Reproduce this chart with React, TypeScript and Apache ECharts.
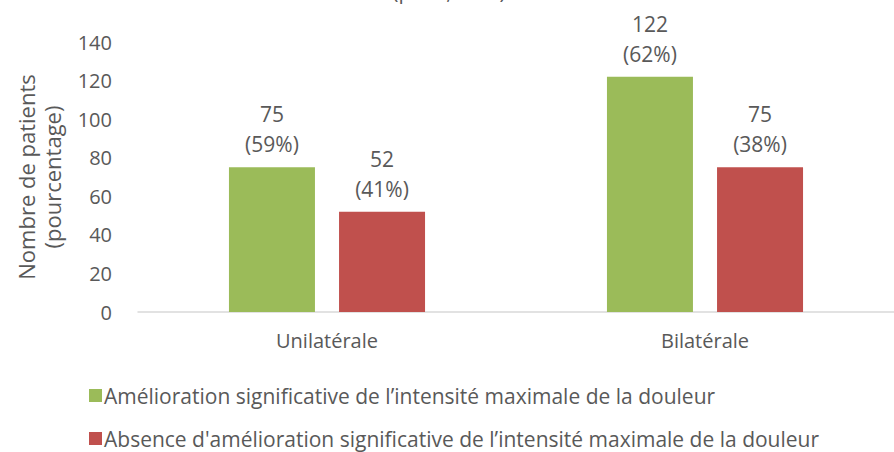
import React, { useEffect, useRef } from "react";
import * as echarts from "echarts";

const categories = ["Unilatérale", "Bilatérale"];
const improved = [75, 122];
const improvedPct = ["59%", "62%"];
const notImproved = [52, 75];
const notImprovedPct = ["41%", "38%"];
const seriesNames = [
  "Amélioration significative de l’intensité maximale de la douleur",
  "Absence d'amélioration significative de l’intensité maximale de la douleur",
];
const yTicks = { min: 0, max: 140, interval: 20 };
const titleText = "(p = 0,6043)";

const FONT = "'Open Sans', 'Liberation Sans', sans-serif";
const GREY = "#595959";

export default function App() {
  const ref = useRef<HTMLDivElement>(null);
  useEffect(() => {
    const chart = echarts.init(ref.current!, null, { renderer: "svg" });
    const label = (pcts: string[]) => ({
      show: true,
      position: "top",
      distance: 8,
      color: GREY,
      fontSize: 21,
      fontFamily: FONT,
      lineHeight: 30,
      formatter: (p: any) => `${p.value}\n(${pcts[p.dataIndex]})`,
    });
    const legendBase = {
      orient: "horizontal",
      left: 84,
      itemWidth: 13,
      itemHeight: 13,
      icon: "rect",
      textStyle: { color: GREY, fontSize: 21, fontFamily: FONT, padding: [0, 0, 0, -3] },
    };
    chart.setOption({
      animation: false,
      backgroundColor: "#ffffff",
      textStyle: { fontFamily: FONT },
      graphic: [
        {
          type: "text",
          x: 449,
          y: -20,
          style: { text: titleText, fill: GREY, fontSize: 21, fontFamily: FONT, align: "center" },
        },
      ],
      grid: { left: 138, width: 766, top: 42, bottom: 140, containLabel: false },
      legend: [
        { ...legendBase, top: 380, data: [seriesNames[0]] },
        { ...legendBase, top: 423, data: [seriesNames[1]] },
      ],
      xAxis: {
        type: "category",
        data: categories,
        axisLine: { lineStyle: { color: "#d9d9d9", width: 1.5 } },
        axisTick: { show: false },
        axisLabel: { color: GREY, fontSize: 20, fontFamily: FONT, margin: 18 },
      },
      yAxis: {
        type: "value",
        min: yTicks.min,
        max: yTicks.max,
        interval: yTicks.interval,
        name: "Nombre de patients\n(pourcentage)",
        nameLocation: "middle",
        nameGap: 73,
        nameRotate: 90,
        nameTextStyle: { color: GREY, fontSize: 22, fontFamily: FONT, lineHeight: 26 },
        axisLine: { show: false },
        axisTick: { show: false },
        splitLine: { show: false },
        axisLabel: { color: GREY, fontSize: 20, fontFamily: FONT, margin: 26 },
      },
      series: [
        {
          name: seriesNames[0],
          type: "bar",
          data: improved,
          barWidth: 86,
          barGap: "28%",
          itemStyle: { color: "#9bbb59" },
          label: label(improvedPct),
        },
        {
          name: seriesNames[1],
          type: "bar",
          data: notImproved,
          barWidth: 86,
          itemStyle: { color: "#c0504d" },
          label: label(notImprovedPct),
        },
      ],
    });
    return () => chart.dispose();
  }, []);
  return (
    <div
      ref={ref}
      style={{ position: "fixed", left: 0, top: 0, width: 894, height: 452 }}
    />
  );
}
